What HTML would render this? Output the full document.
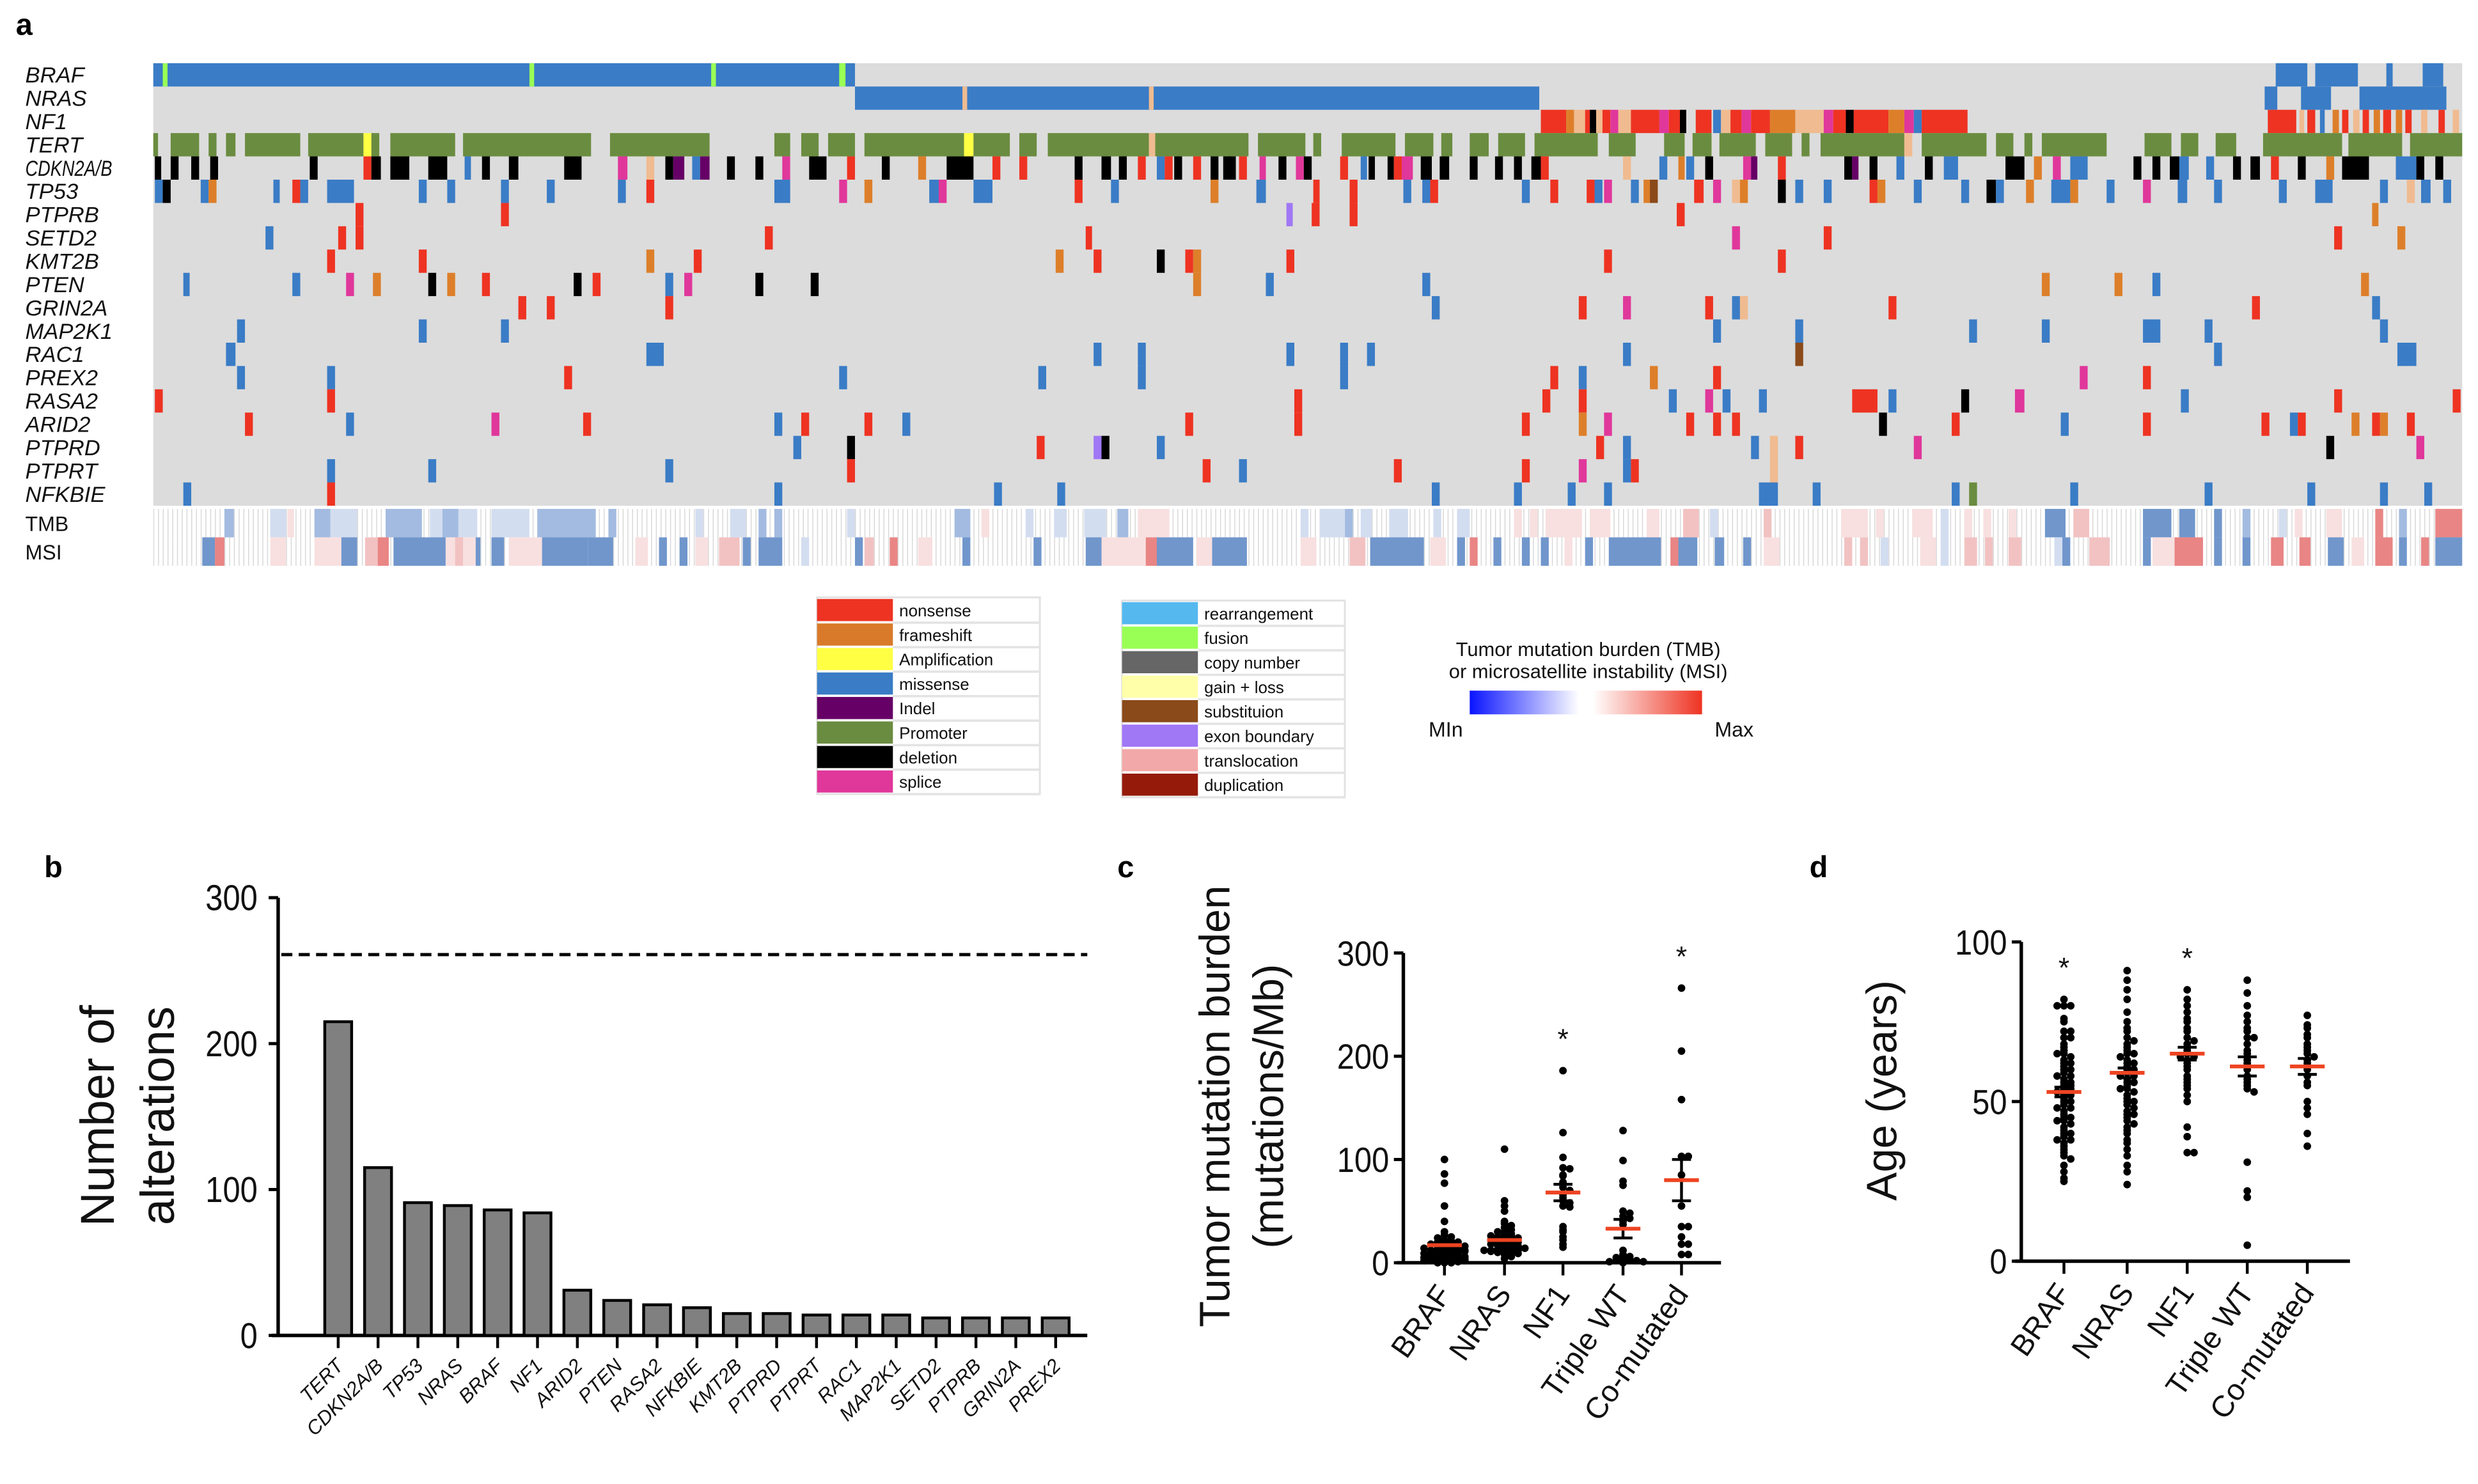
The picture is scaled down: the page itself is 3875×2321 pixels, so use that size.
<!DOCTYPE html>
<html><head><meta charset="utf-8">
<style>
html,body{margin:0;padding:0;background:#fff;}
svg{display:block;font-family:"Liberation Sans",Arial,sans-serif;}
</style></head>
<body>
<svg id="fig" xmlns="http://www.w3.org/2000/svg" width="3875" height="2321" viewBox="0 0 1568 939" preserveAspectRatio="none">
<rect x="0" y="0" width="1568" height="939" fill="#fff"/>
<defs>
<pattern id="colgrid" x="97" y="0" width="3" height="10" patternUnits="userSpaceOnUse"><rect x="0" y="0" width="0.6" height="10" fill="#d8d8d8"/></pattern>
<linearGradient id="heatgrad" x1="0" x2="1" y1="0" y2="0"><stop offset="0" stop-color="#0a14ff"/><stop offset="0.47" stop-color="#ffffff"/><stop offset="0.53" stop-color="#ffffff"/><stop offset="1" stop-color="#ee3322"/></linearGradient>
</defs>
<text x="10" y="22" font-size="19" font-weight="bold">a</text>
<text x="28" y="555" font-size="19" font-weight="bold">b</text>
<text x="707" y="555" font-size="19" font-weight="bold">c</text>
<text x="1145" y="555" font-size="19" font-weight="bold">d</text>
<g id="onco"></g>
<g id="legend"></g>
<g id="pb"></g>
<g id="pc"></g>
<g id="pd"></g>
</svg>
<script>
// ---------- Panel a data ----------
const genes = ["BRAF","NRAS","NF1","TERT","CDKN2A/B","TP53","PTPRB","SETD2","KMT2B","PTEN","GRIN2A","MAP2K1","RAC1","PREX2","RASA2","ARID2","PTPRD","PTPRT","NFKBIE"];
const alterations = [
 [[97,541,'m'],[103,106,'u'],[335,338,'u'],[450,453,'u'],[531,535,'u'],[1440,1460,'m'],[1465,1492,'m'],[1510,1514,'m'],[1533,1546,'m']],
 [[541,974,'m'],[609,612,'t'],[727,730,'t'],[1433,1441,'m'],[1456,1475,'m'],[1493,1548,'m']],
 [[975,991,'n'],[991,996,'f'],[996,1003,'t'],[1003,1006,'n'],[1006,1010,'d'],[1010,1014,'t'],[1014,1019,'n'],[1019,1024,'s'],[1024,1032,'t'],[1032,1050,'n'],[1050,1056,'s'],[1056,1063,'n'],[1063,1067,'d'],[1073,1083,'n'],[1084,1089,'m'],[1089,1095,'t'],[1095,1102,'n'],[1102,1108,'s'],[1108,1120,'n'],[1120,1136,'f'],[1136,1154,'t'],[1154,1160,'s'],[1160,1168,'n'],[1168,1173,'d'],[1173,1195,'n'],[1195,1205,'f'],[1205,1211,'s'],[1211,1216,'m'],[1216,1245,'n'],
  [1435,1453,'n'],[1455,1458,'t'],[1460,1465,'n'],[1468,1471,'m'],[1476,1480,'f'],[1482,1486,'n'],[1489,1493,'t'],[1495,1499,'n'],[1502,1506,'f'],[1508,1513,'n'],[1516,1520,'f'],[1522,1526,'n'],[1532,1536,'t'],[1543,1547,'n'],[1552,1556,'t']],
 [[97,100,'p'],[108,126,'p'],[132,137,'p'],[143,149,'p'],[155,190,'p'],[195,230,'p'],[230,235,'a'],[235,240,'p'],[247,288,'p'],[293,374,'p'],[386,449,'p'],[490,500,'p'],[507,518,'p'],[524,541,'p'],[547,610,'p'],[610,616,'a'],[616,639,'p'],[645,656,'p'],[663,727,'p'],[727,731,'t'],[731,790,'p'],[796,826,'p'],[831,836,'p'],[849,883,'p'],[889,907,'p'],[912,919,'p'],[930,942,'p'],[948,965,'p'],[971,1011,'p'],[1018,1035,'p'],[1053,1066,'p'],[1071,1083,'p'],[1088,1111,'p'],[1117,1134,'p'],[1140,1145,'p'],[1152,1205,'p'],[1205,1210,'t'],[1216,1257,'p'],[1263,1274,'p'],[1281,1286,'p'],[1292,1333,'p'],[1357,1374,'p'],[1380,1391,'p'],[1402,1415,'p'],[1432,1482,'p'],[1486,1520,'p'],[1525,1558,'p']],
 [[98,102,'d'],[108,113,'d'],[121,126,'d'],[133,138,'d'],[196,201,'d'],[230,235,'n'],[235,241,'d'],[247,259,'d'],[271,283,'d'],[294,298,'m'],[305,310,'d'],[322,328,'d'],[357,368,'d'],[391,397,'s'],[409,414,'t'],[421,426,'d'],[426,433,'i'],[438,443,'m'],[443,449,'i'],[460,465,'d'],[478,483,'d'],[495,500,'s'],[512,523,'d'],[536,541,'n'],[558,563,'d'],[581,586,'f'],[599,616,'d'],[628,633,'n'],[645,650,'n'],[680,685,'d'],[697,703,'d'],[708,713,'d'],[720,725,'n'],[732,737,'m'],[737,742,'n'],[743,748,'d'],[755,760,'n'],[766,771,'d'],[777,782,'d'],[784,789,'n'],
  [774,779,'d'],[797,801,'s'],[809,814,'d'],[820,825,'s'],[825,830,'d'],[848,853,'n'],[861,865,'m'],[866,870,'d'],[878,882,'d'],[882,887,'n'],[887,894,'s'],[899,906,'d'],[911,917,'d'],[930,935,'d'],[946,951,'d'],[958,963,'d'],[969,975,'d'],[975,980,'n'],[1027,1032,'t'],[1050,1055,'m'],[1062,1066,'f'],[1067,1072,'m'],[1079,1084,'d'],[1103,1108,'s'],[1108,1112,'i'],[1125,1130,'n'],[1167,1172,'d'],[1172,1176,'i'],[1183,1188,'d'],[1200,1205,'m'],[1218,1223,'d'],[1230,1239,'m'],[1269,1281,'d'],[1287,1292,'f'],[1299,1304,'s'],[1310,1321,'m'],[1350,1355,'d'],[1362,1367,'d'],[1373,1379,'d'],[1379,1385,'m'],[1396,1401,'m'],[1413,1418,'d'],[1424,1430,'d'],[1437,1442,'n'],[1454,1459,'d'],[1472,1477,'f'],[1482,1499,'d'],[1516,1529,'m'],[1529,1534,'d'],[1541,1546,'d']],
 [[98,103,'m'],[103,108,'d'],[127,132,'m'],[132,137,'f'],[173,177,'m'],[185,190,'n'],[190,195,'m'],[207,224,'m'],[265,270,'m'],[283,288,'m'],[317,322,'m'],[346,351,'m'],[391,396,'m'],[409,414,'n'],[490,500,'m'],[531,536,'s'],[547,552,'f'],[588,594,'m'],[594,599,'s'],[616,628,'m'],[680,685,'n'],[703,708,'m'],[766,771,'f'],[795,801,'m'],[831,835,'n'],[854,859,'n'],[888,893,'m'],[900,905,'m'],[905,910,'n'],[963,968,'m'],[981,986,'n'],[1004,1009,'n'],[1009,1014,'m'],[1015,1020,'s'],[1032,1037,'m'],[1040,1044,'f'],[1044,1049,'b'],[1072,1078,'n'],[1084,1089,'s'],[1096,1101,'t'],[1101,1106,'f'],[1125,1130,'d'],[1136,1141,'m'],[1154,1159,'m'],[1183,1188,'n'],[1188,1193,'f'],[1211,1216,'m'],[1241,1246,'m'],[1257,1263,'d'],[1263,1268,'m'],[1282,1287,'f'],[1298,1310,'m'],[1310,1315,'f'],[1333,1338,'m'],[1356,1361,'s'],[1378,1384,'m'],[1401,1406,'m'],[1442,1447,'m'],[1465,1476,'m'],[1506,1511,'m'],[1523,1528,'t'],[1532,1538,'m'],[1546,1551,'m']],
 [[225,230,'n'],[317,322,'n'],[814,818,'e'],[830,835,'n'],[854,859,'n'],[1061,1066,'n'],[1501,1505,'f']],
 [[168,173,'m'],[214,219,'n'],[225,230,'n'],[484,489,'n'],[687,691,'n'],[1096,1101,'s'],[1154,1159,'n'],[1477,1482,'n'],[1517,1522,'f']],
 [[207,212,'n'],[265,270,'n'],[409,414,'f'],[439,444,'n'],[668,673,'f'],[692,697,'n'],[732,737,'d'],[750,755,'n'],[755,760,'f'],[814,819,'n'],[1015,1020,'n'],[1125,1130,'n']],
 [[116,120,'m'],[185,190,'m'],[219,224,'s'],[236,241,'f'],[271,276,'d'],[283,288,'f'],[305,310,'n'],[363,368,'d'],[375,380,'n'],[421,426,'m'],[433,438,'s'],[478,483,'d'],[513,518,'d'],[755,760,'f'],[801,806,'m'],[900,905,'m'],[1292,1297,'f'],[1338,1343,'f'],[1362,1367,'m'],[1494,1499,'f']],
 [[328,333,'n'],[346,351,'n'],[421,426,'n'],[906,911,'m'],[999,1004,'n'],[1027,1032,'s'],[1079,1084,'n'],[1096,1101,'m'],[1101,1106,'t'],[1195,1200,'n'],[1425,1430,'n'],[1501,1506,'m']],
 [[150,155,'m'],[265,270,'m'],[317,322,'m'],[1084,1089,'m'],[1136,1141,'m'],[1246,1251,'m'],[1292,1297,'m'],[1356,1367,'m'],[1395,1400,'m'],[1506,1511,'m']],
 [[143,149,'m'],[409,420,'m'],[692,697,'m'],[720,725,'m'],[814,819,'m'],[848,853,'m'],[865,870,'m'],[1027,1032,'m'],[1136,1141,'b'],[1401,1406,'m'],[1517,1529,'m']],
 [[150,155,'m'],[207,212,'m'],[357,362,'n'],[531,536,'m'],[657,662,'m'],[720,725,'m'],[848,853,'m'],[981,986,'n'],[999,1004,'m'],[1044,1049,'f'],[1084,1089,'n'],[1316,1321,'s'],[1356,1361,'n']],
 [[98,103,'n'],[207,212,'n'],[819,824,'n'],[976,981,'n'],[999,1004,'n'],[1056,1061,'m'],[1079,1084,'s'],[1090,1095,'m'],[1113,1118,'m'],[1172,1188,'n'],[1195,1200,'m'],[1241,1246,'d'],[1275,1281,'s'],[1380,1385,'m'],[1477,1482,'n'],[1552,1557,'n']],
 [[155,160,'n'],[219,224,'m'],[311,316,'s'],[369,374,'n'],[490,495,'m'],[507,512,'n'],[547,552,'n'],[571,576,'m'],[750,755,'n'],[819,824,'n'],[963,968,'n'],[999,1004,'f'],[1015,1020,'s'],[1067,1072,'n'],[1084,1089,'n'],[1096,1101,'n'],[1189,1194,'d'],[1235,1240,'n'],[1304,1309,'m'],[1356,1361,'n'],[1431,1436,'n'],[1449,1454,'m'],[1454,1459,'n'],[1488,1493,'f'],[1501,1506,'n'],[1506,1511,'f'],[1523,1528,'n']],
 [[502,507,'m'],[536,541,'d'],[656,661,'n'],[692,697,'e'],[697,702,'d'],[732,737,'m'],[1010,1015,'n'],[1027,1032,'m'],[1108,1113,'m'],[1120,1125,'t'],[1136,1141,'n'],[1211,1216,'s'],[1472,1477,'d'],[1529,1534,'s']],
 [[207,212,'m'],[271,276,'m'],[421,426,'m'],[536,541,'n'],[761,766,'n'],[784,789,'m'],[882,887,'n'],[963,968,'n'],[999,1004,'s'],[1027,1032,'m'],[1032,1037,'n'],[1120,1125,'t']],
 [[116,121,'m'],[207,212,'n'],[490,495,'m'],[629,634,'m'],[669,674,'m'],[906,911,'m'],[958,963,'m'],[992,997,'m'],[1015,1020,'m'],[1113,1125,'m'],[1147,1152,'m'],[1235,1240,'m'],[1246,1251,'p'],[1310,1315,'m'],[1395,1400,'m'],[1460,1465,'m'],[1506,1511,'m'],[1534,1539,'m']]
];
const tmbLevels = [[142,148,-2],[171,181,-1],[182,186,1],[199,209,-2],[209,226,-1],[244,267,-2],[272,302,-1],[280,290,-2],[311,335,-1],[340,377,-2],[385,390,-2],[440,445,-1],[462,472,-1],[480,485,-2],[490,495,-2],[536,541,-1],[604,614,-2],[621,626,1],[649,654,-1],[667,675,-1],[686,700,-1],[707,714,-2],[720,740,1],[823,828,-1],[835,851,-1],[851,856,-2],[861,868,-1],[879,891,-1],[907,912,-1],[922,930,-1],[958,963,1],[968,973,1],[978,1001,1],[1006,1019,1],[1042,1050,1],[1065,1075,2],[1082,1087,-1],[1116,1121,2],[1165,1182,1],[1187,1192,1],[1210,1223,1],[1228,1233,-1],[1243,1248,1],[1255,1260,1],[1271,1276,1],[1294,1307,-3],[1312,1322,2],[1356,1374,-3],[1379,1389,-3],[1401,1406,-3],[1419,1424,-2],[1442,1447,-1],[1452,1457,1],[1472,1482,1],[1503,1508,3],[1518,1523,-2],[1541,1558,3]];
const msiLevels = [[128,136,-3],[136,142,3],[171,181,1],[199,216,1],[216,226,-3],[231,239,2],[239,246,3],[249,282,-3],[282,301,1],[288,293,2],[301,304,-3],[311,319,-3],[322,343,1],[343,372,-3],[372,388,-3],[402,410,1],[417,422,-3],[430,435,-3],[440,448,1],[455,468,2],[470,475,-3],[480,495,-3],[507,512,-1],[541,546,-3],[547,553,2],[563,568,3],[581,590,1],[609,614,-3],[654,659,-3],[687,697,-3],[697,725,1],[725,732,3],[732,755,-3],[757,767,1],[767,789,-3],[823,833,1],[854,864,2],[867,901,-3],[905,915,1],[922,927,-3],[930,935,3],[945,950,-3],[963,968,-3],[975,980,-3],[990,995,1],[1003,1008,-3],[1018,1051,-3],[1057,1062,3],[1062,1074,-3],[1085,1091,-3],[1103,1108,-3],[1116,1126,1],[1167,1172,2],[1177,1182,2],[1190,1195,-1],[1215,1225,1],[1228,1233,-1],[1243,1251,2],[1256,1261,2],[1271,1279,2],[1300,1305,-1],[1305,1310,-3],[1322,1335,2],[1356,1361,-3],[1362,1376,1],[1376,1394,3],[1401,1406,-3],[1419,1424,-3],[1437,1445,3],[1455,1462,3],[1473,1483,-3],[1488,1496,1],[1503,1514,3],[1518,1523,-3],[1532,1537,3],[1541,1558,-3]];

// ---------- Panel b data ----------
const barGenes = ["TERT","CDKN2A/B","TP53","NRAS","BRAF","NF1","ARID2","PTEN","RASA2","NFKBIE","KMT2B","PTPRD","PTPRT","RAC1","MAP2K1","SETD2","PTPRB","GRIN2A","PREX2"];
const barCounts = [215,115,91,89,86,84,31,24,21,19,15,15,14,14,14,12,12,12,12];
const barTicks = [0,100,200,300];
const dashedLevel = 261;

// ---------- Panel c data ----------
const groups = ["BRAF","NRAS","NF1","Triple WT","Co-mutated"];
const tmbBRAF = [100,86,77,55,40,30,27,25,24,22,21,20,19,18,17,16,15,15,14,13,12,12,11,10,10,9,9,8,8,7,7,6,6,5,5,5,4,4,3,3,3,2,2,2,1,1,1,0,0,0,20,18,16,14,12,11,9,8,6,4,3,2,1,12,10,7,5,3];
const tmbNRAS = [110,60,55,50,40,38,36,34,32,30,28,27,26,25,24,23,22,21,20,19,18,17,16,15,14,13,12,12,11,10,10,9,8,6,4,30,26,22,18,14,12,11];
const tmbNF1 = [186,126,102,92,91,85,84,78,76,73,70,66,63,60,58,55,54,35,32,30,25,22,18,15];
const tmbTWT = [128,99,79,75,50,48,45,43,40,37,12,8,6,5,4,3,2,2,1,1,0];
const tmbCo = [266,205,158,103,103,85,55,35,35,25,18,18,8,8];
const tmbMean = [17,22,68,33,80];
const tmbSem = [2,2,8,9,20];
const tmbTicks = [0,100,200,300];
const tmbStars = [0,0,1,0,1];

// ---------- Panel d data ----------
const ageBRAF = [82,80,80,80,76,75,72,72,70,70,68,67,66,65,64,63,62,61,60,60,59,58,57,56,56,55,55,54,54,53,52,52,51,50,50,49,48,47,46,45,45,44,43,42,41,40,40,39,38,37,36,35,34,33,32,30,28,26,25,65,62,58,48,44,38];
const ageNRAS = [91,88,85,82,78,75,73,72,70,69,68,67,66,65,65,64,63,62,62,61,60,60,59,58,57,56,55,54,53,52,51,50,49,48,47,46,45,44,43,42,41,40,38,37,35,33,30,28,24,58,56,54,50,46];
const ageNF1 = [85,82,80,78,76,75,73,72,70,69,68,67,66,65,64,64,63,62,61,60,58,57,56,55,54,52,50,42,39,34,34];
const ageTWT = [88,84,80,77,75,73,72,70,70,68,66,65,63,62,61,60,58,57,56,55,54,53,31,22,20,5];
const ageCo = [77,74,73,71,70,68,67,66,65,64,63,62,61,60,58,56,55,50,48,46,40,36];
const ageMean = [53,59,65,61,61];
const ageSem = [1.5,1.5,2,3,2.5];
const ageTicks = [0,50,100];
const ageStars = [1,0,1,0,0];

const NS="http://www.w3.org/2000/svg";
function mk(tag, attrs, parent){const e=document.createElementNS(NS,tag);for(const k in attrs)e.setAttribute(k,attrs[k]);parent.appendChild(e);return e;}
const colors={n:'#ee3322',f:'#dd7f2a',a:'#ffff44',m:'#3a7cc6',i:'#660066',p:'#6a8c40',d:'#000000',s:'#e0379b',u:'#99ff55',b:'#8b4a1a',e:'#a077f5',t:'#f0bb90'};
const heat={'-3':'#7096cc','-2':'#a3bbe0','-1':'#d3ddf0','1':'#f8e0e0','2':'#f2c2c2','3':'#e98585'};

// ---------- Draw oncoprint ----------
const onco=document.getElementById('onco');
const ox0=97, ox1=1558, oy0=40, rowH=(320-40)/19;
function sx(v){return ox0+(v-97)*(ox1-ox0)/(1558-97);}
let bg=mk('rect',{x:ox0,y:oy0,width:ox1-ox0,height:19*rowH,fill:'#dcdcdc'},onco);


genes.forEach((g,r)=>{
  const y=oy0+r*rowH;
  const at={x:16,y:y+rowH-2.5,'font-size':14,'font-style':'italic',fill:'#111'};
  if(g.length>6){at.textLength=55;at.lengthAdjust='spacingAndGlyphs';}
  const lab=mk('text',at,onco);
  lab.textContent=g;
  
  
  alterations[r].forEach(s=>{
    const c=mk('rect',{x:sx(s[0]),y:y,width:Math.max(sx(s[1])-sx(s[0]),2),height:rowH,fill:colors[s[2]]},onco);
    
    
  });
});
[['TMB',tmbLevels,322],['MSI',msiLevels,340]].forEach(([nm,arr,y])=>{
  const b=mk('rect',{x:ox0,y:y,width:ox1-ox0,height:18,fill:'url(#colgrid)'},onco);
  
  
  const lab=mk('text',{x:16,y:y+14,'font-size':13,fill:'#111'},onco);
  lab.textContent=nm;
  
  
  arr.forEach(s=>{
    const c=mk('rect',{x:sx(s[0]),y:y,width:sx(s[1])-sx(s[0]),height:18,fill:heat[String(s[2])]},onco);
    
    
  });
});

// ---------- Legend ----------
const leg=document.getElementById('legend');
const legL=[['nonsense','#ee3322'],['frameshift','#d97a2a'],['Amplification','#ffff44'],['missense','#3a7cc6'],['Indel','#660066'],['Promoter','#6a8c40'],['deletion','#000000'],['splice','#e0379b']];
const legR=[['rearrangement','#55b8ee'],['fusion','#99ff55'],['copy number','#666666'],['gain + loss','#ffffaa'],['substituion','#8b4a1a'],['exon boundary','#a077f5'],['translocation','#f2a8a8'],['duplication','#951a0a']];
[[legL,517,378],[legR,710,380]].forEach(([items,x,y])=>{
  const box=mk('rect',{x:x,y:y,width:141,height:124.5,fill:'#fff',stroke:'#e2e2e2','stroke-width':1.2},leg);
  
  
  items.forEach((it,i)=>{
    const yy=y+1+i*15.5;
    const sw=mk('rect',{x:x,y:yy,width:48,height:14,fill:it[1]},leg);
    
    
    const ln=mk('line',{x1:x+48,x2:x+141,y1:yy+15,y2:yy+15,stroke:'#e4e4e4','stroke-width':1.5},leg);
    
    
    const t=mk('text',{x:x+52,y:yy+11,'font-size':10.5,fill:'#111'},leg);
    t.textContent=it[0];
    
    
  });
});
let t1=mk('text',{x:1005,y:415,'font-size':12.5,'text-anchor':'middle',fill:'#111'},leg);t1.textContent='Tumor mutation burden (TMB)';


let t2=mk('text',{x:1005,y:429,'font-size':12.5,'text-anchor':'middle',fill:'#111'},leg);t2.textContent='or microsatellite instability (MSI)';


let gb=mk('rect',{x:930,y:437,width:147,height:15,fill:'url(#heatgrad)'},leg);


let tmin=mk('text',{x:904,y:466,'font-size':13,fill:'#111'},leg);tmin.textContent='MIn';


let tmax=mk('text',{x:1085,y:466,'font-size':13,fill:'#111'},leg);tmax.textContent='Max';



// ---------- Panel b ----------
const pb=document.getElementById('pb');
const bY0=845, bY1=568, bMax=300;
function by(v){return bY0-(v/bMax)*(bY0-bY1);}
function bx(i){return 214+i*(668-214)/(barGenes.length-1);}
let ya=mk('line',{x1:176,x2:176,y1:by(300),y2:bY0,stroke:'#000','stroke-width':2.2},pb);


let xa=mk('line',{x1:172,x2:688,y1:bY0,y2:bY0,stroke:'#000','stroke-width':2.2},pb);


barTicks.forEach(v=>{
  const tk=mk('line',{x1:170,x2:176,y1:by(v),y2:by(v),stroke:'#000','stroke-width':2},pb);
  
  
  const tl=mk('text',{x:163,y:by(v)+8,'font-size':23,'text-anchor':'end',fill:'#111',textLength:String(v).length*11,lengthAdjust:'spacingAndGlyphs'},pb);
  tl.textContent=v;
  
  
});
let dl=mk('line',{x1:178,x2:688,y1:by(dashedLevel),y2:by(dashedLevel),stroke:'#000','stroke-width':2,'stroke-dasharray':'7,4'},pb);


barGenes.forEach((g,i)=>{
  const x=bx(i);
  const r=mk('rect',{x:x-8.5,y:by(barCounts[i]),width:17,height:bY0-by(barCounts[i]),fill:'#808080',stroke:'#000','stroke-width':1.8},pb);
  
  
  const tk=mk('line',{x1:x,x2:x,y1:bY0,y2:bY0+8,stroke:'#000','stroke-width':1.8},pb);
  
  
  const tl=mk('text',{x:x+4,y:bY0+20,'font-size':12.5,'font-style':'italic','text-anchor':'end',fill:'#111',transform:`rotate(-45 ${x+4} ${bY0+20})`},pb);
  tl.textContent=g;
  
  
});
let byt1=mk('text',{x:72,y:706,'font-size':30,'text-anchor':'middle',fill:'#111',transform:'rotate(-90 72 706)'},pb);byt1.textContent='Number of';


let byt2=mk('text',{x:110,y:706,'font-size':30,'text-anchor':'middle',fill:'#111',transform:'rotate(-90 110 706)'},pb);byt2.textContent='alterations';



// ---------- dot plot helper ----------
function dotPlot(g, prefix, axX, axEnd, catX, y0, yTop, vmax, ticks, series, means, sems, stars, tickLabW){
  function yv(v){return y0-(v/vmax)*(y0-yTop);}
  const a1=mk('line',{x1:axX,x2:axX,y1:yTop,y2:y0,stroke:'#000','stroke-width':2.2},g);
  
  
  const a2=mk('line',{x1:axX-4,x2:axEnd,y1:y0,y2:y0,stroke:'#000','stroke-width':2.2},g);
  
  
  ticks.forEach(v=>{
    const tk=mk('line',{x1:axX-6,x2:axX,y1:yv(v),y2:yv(v),stroke:'#000','stroke-width':2},g);
    
    
    const tl=mk('text',{x:axX-9,y:yv(v)+8,'font-size':22,'text-anchor':'end',fill:'#111',textLength:String(v).length*tickLabW,lengthAdjust:'spacingAndGlyphs'},g);
    tl.textContent=v;
    
    
  });
  groups.forEach((gn,i)=>{
    const cx=catX[i];
    const tk=mk('line',{x1:cx,x2:cx,y1:y0,y2:y0+8,stroke:'#000','stroke-width':1.8},g);
    
    
    const tl=mk('text',{x:cx+5,y:y0+20,'font-size':19,'text-anchor':'end',fill:'#111',transform:`rotate(-55 ${cx+5} ${y0+20})`},g);
    tl.textContent=gn;
    
    
    const bins={};
    series[i].forEach(v=>{
      const key=Math.round(yv(v)/2.5);
      bins[key]=(bins[key]||0)+1;
      const k=(bins[key]-1)%7;
      const off=(k===0?0:(k%2?1:-1)*Math.ceil(k/2)*4.3);
      const d=mk('circle',{cx:cx+off,cy:yv(v),r:2.4,fill:'#000'},g);
      
      
    });
    const e=mk('line',{x1:cx,x2:cx,y1:yv(means[i]+sems[i]),y2:yv(means[i]-sems[i]),stroke:'#000','stroke-width':1.8},g);
    
    
    [means[i]+sems[i],means[i]-sems[i]].forEach(v=>{
      const c=mk('line',{x1:cx-6,x2:cx+6,y1:yv(v),y2:yv(v),stroke:'#000','stroke-width':1.8},g);
      
      
    });
    const m=mk('line',{x1:cx-11,x2:cx+11,y1:yv(means[i]),y2:yv(means[i]),stroke:'#ee4422','stroke-width':2.4},g);
    
    
    if(stars[i]){
      const mx=Math.max(...series[i]);
      const st=mk('text',{x:cx,y:yv(mx)-14,'font-size':18,'text-anchor':'middle',fill:'#111'},g);
      st.textContent='*';
      
      
    }
  });
  return yv;
}
const pc=document.getElementById('pc');
dotPlot(pc,'c',888,1089,[914,952,989,1027,1064],799,603,300,tmbTicks,[tmbBRAF,tmbNRAS,tmbNF1,tmbTWT,tmbCo],tmbMean,tmbSem,tmbStars,11);
let ct1=mk('text',{x:778,y:700,'font-size':27,'text-anchor':'middle',fill:'#111',transform:'rotate(-90 778 700)'},pc);ct1.textContent='Tumor mutation burden';


let ct2=mk('text',{x:812,y:700,'font-size':27,'text-anchor':'middle',fill:'#111',transform:'rotate(-90 812 700)'},pc);ct2.textContent='(mutations/Mb)';


const pd=document.getElementById('pd');
dotPlot(pd,'d',1279,1487,[1306,1346,1384,1422,1460],798,596,100,ageTicks,[ageBRAF,ageNRAS,ageNF1,ageTWT,ageCo],ageMean,ageSem,ageStars,11);
let dt=mk('text',{x:1200,y:690,'font-size':27,'text-anchor':'middle',fill:'#111',transform:'rotate(-90 1200 690)'},pd);dt.textContent='Age (years)';


</script>
</body></html>
